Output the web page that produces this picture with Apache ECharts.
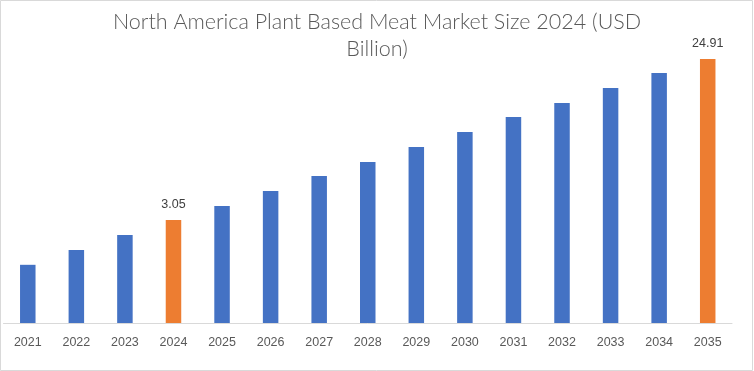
<!DOCTYPE html>
<html>
<head>
<meta charset="utf-8">
<script src="https://cdn.jsdelivr.net/npm/echarts@6/dist/echarts.min.js"></script>
<style>
html,body{margin:0;padding:0;background:#fff;}
#chart{width:754px;height:371px;}
</style>
</head>
<body>
<div id="chart"></div>
<script>
// Data (USD Billion), bar heights (drawn on a log scale)
const years = ['2021','2022','2023','2024','2025','2026','2027','2028','2029','2030','2031','2032','2033','2034','2035'];
const values = [1.70, 2.06, 2.51, 3.05, 3.66, 4.45, 5.41, 6.50, 7.90, 9.61, 11.69, 14.03, 17.07, 20.75, 24.91];
const highlightedYears = ['2024', '2035'];
const titleText = 'North America Plant Based Meat Market Size 2024 (USD\nBillion)';

// log-scale drawing: bars start from the hidden axis floor value
const AXIS_FLOOR = 0.7957, AXIS_CEIL = 31.92;
const logScale = v => Math.log(v / AXIS_FLOOR);

const BLUE = '#4472C4', ORANGE = '#ED7D31';

const chart = echarts.init(document.getElementById('chart'), null, {renderer: 'canvas'});
const data = values.map((v, i) => {
  const hl = highlightedYears.includes(years[i]);
  return {
    value: logScale(v),
    raw: v,
    itemStyle: {color: hl ? ORANGE : BLUE},
    label: {show: hl}
  };
});

chart.setOption({
  animation: false,
  backgroundColor: '#ffffff',
  title: {
    text: titleText,
    left: 'center',
    top: 4,
    textStyle: {
      fontFamily: 'Lato',
      fontWeight: 300,
      fontSize: 21.5,
      lineHeight: 27,
      color: '#595959',
      align: 'center'
    }
  },
  grid: {left: 3.5, right: 22, top: 40, bottom: 48, containLabel: false},
  xAxis: {
    type: 'category',
    data: years,
    axisLine: {show: true, lineStyle: {color: '#d9d9d9', width: 1}},
    axisTick: {show: false},
    axisLabel: {
      margin: 13,
      fontFamily: 'Liberation Sans',
      fontSize: 12.5,
      color: '#595959',
      interval: 0
    }
  },
  yAxis: {
    type: 'value',
    min: 0,
    max: logScale(AXIS_CEIL),
    show: false,
    splitLine: {show: false}
  },
  series: [{
    type: 'bar',
    data: data,
    barWidth: 15.5,
    label: {
      position: 'top',
      distance: 9,
      fontFamily: 'Liberation Sans',
      fontSize: 12.5,
      color: '#404040',
      formatter: p => p.data.raw.toFixed(2)
    }
  }],
  graphic: [{
    type: 'rect',
    shape: {x: 0.5, y: 0.5, width: 752, height: 370},
    style: {fill: 'none', stroke: '#d9d9d9', lineWidth: 1},
    silent: true
  }]
});
</script>
</body>
</html>
